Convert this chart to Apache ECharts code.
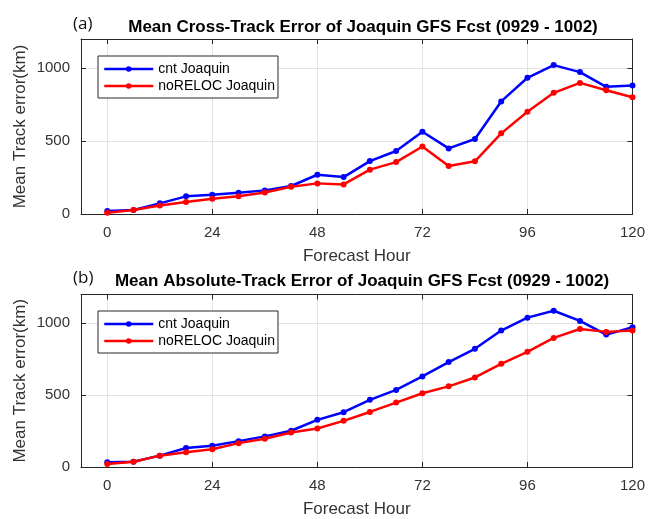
<!DOCTYPE html>
<html>
<head>
<meta charset="utf-8">
<script src="https://cdn.jsdelivr.net/npm/echarts@6/dist/echarts.min.js"></script>
<style>html,body{margin:0;padding:0;background:#fff}#c{width:648px;height:519px}</style>
</head>
<body>
<div id="c"></div>
<script>
const hours = [0,6,12,18,24,30,36,42,48,54,60,66,72,78,84,90,96,102,108,114,120];
const crossCnt = [20,27,73,121,132,146,162,192,269,253,363,432,564,450,514,772,934,1021,973,872,881];
const crossNoreloc = [9,27,59,82,105,121,148,187,210,203,304,356,463,329,361,553,701,831,899,849,801];
const absCnt = [33,37,79,132,148,180,213,252,328,381,467,536,630,730,822,949,1039,1087,1016,921,972];
const absNoreloc = [21,37,79,102,123,166,197,240,268,321,383,448,513,561,623,718,801,898,960,940,949];
const xTicks = [0,24,48,72,96,120];
const yTicks = [0,500,1000];
const titleA = 'Mean Cross-Track Error of Joaquin GFS Fcst (0929 - 1002)';
const titleB = 'Mean Absolute-Track Error of Joaquin GFS Fcst (0929 - 1002)';
const nameCnt = 'cnt Joaquin';
const nameNo = 'noRELOC Joaquin';

const axisCol = '#262626';
const font = '"Liberation Sans", Arial, sans-serif';
const grids = [
  {left: 81, top: 39, width: 554, height: 175},
  {left: 81, top: 294.5, width: 554, height: 173.2}
];
function pairs(v){ return hours.map((h,i)=>[h,v[i]]); }

const xAxis = [], yAxis = [];
grids.forEach((g, gi) => {
  xAxis.push({
    type:'value', gridIndex: gi, min:-6, max:120, position:'bottom',
    name:'Forecast Hour', nameLocation:'middle', nameGap:34, nameMoveOverlap:false,
    nameTextStyle:{fontFamily:font, fontSize:17, color:'#333'},
    axisLine:{show:true, onZero:false, lineStyle:{color:axisCol, width:1}},
    axisTick:{show:true, inside:true, length:5, customValues:xTicks, lineStyle:{color:axisCol}},
    axisLabel:{customValues:xTicks, margin:11, fontFamily:font, fontSize:15, color:'#333', formatter:v=>String(v)},
    splitLine:{show:true, lineStyle:{color:'#e3e3e3', width:1}}
  });
  xAxis.push({
    type:'value', gridIndex: gi, min:-6, max:120, position:'top',
    axisLine:{show:true, onZero:false, lineStyle:{color:axisCol, width:1}},
    axisTick:{show:true, inside:true, length:5, customValues:xTicks, lineStyle:{color:axisCol}},
    axisLabel:{show:false}, splitLine:{show:false}
  });
  yAxis.push({
    type:'value', gridIndex: gi, min:0, max:1200, position:'left',
    name:'Mean Track error(km)', nameLocation:'middle', nameGap:52, nameMoveOverlap:false,
    nameTextStyle:{fontFamily:font, fontSize:17, color:'#333'},
    axisLine:{show:true, onZero:false, lineStyle:{color:axisCol, width:1}},
    axisTick:{show:true, inside:true, length:5, customValues:yTicks, lineStyle:{color:axisCol}},
    axisLabel:{customValues:yTicks, margin:11, fontFamily:font, fontSize:15, color:'#333', formatter:v=>String(v)},
    splitLine:{show:true, lineStyle:{color:'#e3e3e3', width:1}}
  });
  yAxis.push({
    type:'value', gridIndex: gi, min:0, max:1200, position:'right',
    axisLine:{show:true, onZero:false, lineStyle:{color:axisCol, width:1}},
    axisTick:{show:true, inside:true, length:5, customValues:yTicks, lineStyle:{color:axisCol}},
    axisLabel:{show:false}, splitLine:{show:false}
  });
});

function line(name, data, color, gi){
  return {
    type:'line', name, data: pairs(data), xAxisIndex: gi*2, yAxisIndex: gi*2,
    symbol:'circle', symbolSize:6, showSymbol:true,
    lineStyle:{color, width:2.5}, itemStyle:{color},
    z: name===nameNo ? 3 : 2
  };
}

const legendBase = {
  orient:'vertical', left:98, itemWidth:49, itemHeight:7, itemGap:3,
  padding:[6,3,5,5], borderColor:axisCol, borderWidth:1, backgroundColor:'#fff',
  textStyle:{fontFamily:font, fontSize:14, color:'#000', lineHeight:14},
  lineStyle:{width:2.5},
  data:[nameCnt, nameNo], selectedMode:false
};

const option = {
  animation:false,
  title:[
    {text:titleA, left:358, top:14, textAlign:'center', textStyle:{fontFamily:font, fontSize:17, fontWeight:'bold', color:'#000'}},
    {text:titleB, left:357, top:268, textAlign:'center', textStyle:{fontFamily:font, fontSize:17, fontWeight:'bold', color:'#000'}},
    {text:'(a)', left:68, top:11, textStyle:{fontFamily:'"Open Sans", sans-serif', fontSize:17, fontWeight:'normal', color:'#111'}},
    {text:'(b)', left:68, top:265, textStyle:{fontFamily:'"Open Sans", sans-serif', fontSize:17, fontWeight:'normal', color:'#111'}}
  ],
  legend:[
    Object.assign({}, legendBase, {top:56}),
    Object.assign({}, legendBase, {top:311})
  ],
  grid: grids,
  xAxis, yAxis,
  series:[
    line(nameCnt, crossCnt, '#0000ff', 0),
    line(nameNo, crossNoreloc, '#ff0000', 0),
    line(nameCnt, absCnt, '#0000ff', 1),
    line(nameNo, absNoreloc, '#ff0000', 1)
  ]
};
const chart = echarts.init(document.getElementById('c'), null, {renderer:'canvas'});
chart.setOption(option);
</script>
</body>
</html>
